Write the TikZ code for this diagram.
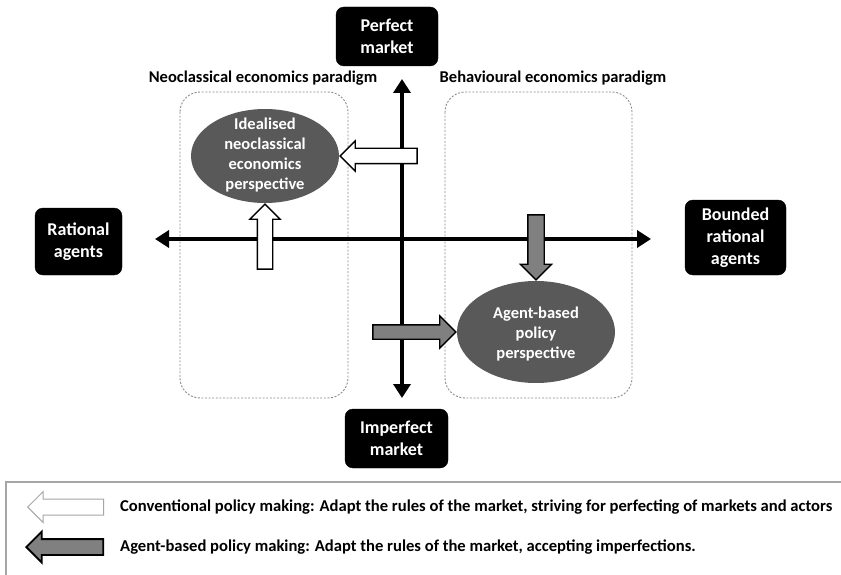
\documentclass[tikz,border=0pt]{standalone}
\usepackage{fontspec}
\setmainfont{Carlito}
\usetikzlibrary{shapes.geometric,shapes.arrows,arrows.meta}
\definecolor{ellgray}{HTML}{595959}
\definecolor{arrgray}{HTML}{808080}
\definecolor{boxline}{HTML}{8C8C8C}
\definecolor{legline}{HTML}{A6A6A6}
\tikzset{
  blackbox/.style={draw=black, fill=black, rounded corners=8pt, text=white, align=center,
    font=\bfseries\fontsize{18}{22}\selectfont, inner sep=2pt},
  paradigm/.style={dashed, dash pattern=on 2pt off 1.6pt, draw=boxline, line width=0.9pt, rounded corners=20pt},
  ellbody/.style={ellipse, fill=ellgray, draw=none, inner sep=0pt},
  elltext/.style={text=white, align=center, font=\bfseries\fontsize{16.5}{20}\selectfont, inner sep=0pt},
  heading/.style={font=\bfseries\fontsize{16.5}{20}\selectfont, inner sep=0pt},
  axis/.style={line width=4pt, -{Triangle[width=17pt,length=14pt]}},
  blockarrow/.style={single arrow, draw=black, line width=1.3pt, inner xsep=0pt, inner ysep=7pt,
    single arrow head extend=7.5pt, single arrow head indent=0pt, single arrow tip angle=90, anchor=tip},
  vblockarrow/.style={blockarrow, inner ysep=0pt, inner xsep=7pt},
  whitearrow/.style={blockarrow, fill=white},
  greyarrow/.style={blockarrow, fill=arrgray},
  legtext/.style={font=\bfseries\fontsize{16.6}{20}\selectfont, anchor=west, inner sep=0pt},
}
\begin{document}
\begin{tikzpicture}[x=1pt, y=-1pt]
\useasboundingbox (0,0) rectangle (841,575);
\clip (0,0) rectangle (841,575);
\fill[white] (0,0) rectangle (841,575);

% paradigm regions
\draw[paradigm] (180,92) rectangle (348,398);
\draw[paradigm] (445,92) rectangle (632,398);
\node[heading] (neoh) at (263,78) {Neoclassical economics paradigm};
\node[heading] (behh) at (553,78) {Behavioural economics paradigm};

% axis labels
\node[blackbox, minimum width=102pt, minimum height=59pt] (pm) at (387,36.5) {Perfect\\market};
\node[blackbox, minimum width=103pt, minimum height=59pt] (im) at (396.5,438.5) {Imperfect\\market};
\node[blackbox, minimum width=87pt, minimum height=67pt] (ra) at (78.5,241.5) {Rational\\agents};
\node[blackbox, minimum width=101pt, minimum height=75pt] (ba) at (735.5,237.5) {Bounded\\rational\\agents};

% axes
\coordinate (hmid) at (402,239);
\coordinate (hl) at (155,239);
\coordinate (hr) at (651,239);
\coordinate (vt) at (402,79);
\coordinate (vb) at (402,398);
\draw[axis] (hmid) -- (hl);
\draw[axis] (hmid) -- (hr);
\draw[axis] (hmid) -- (vt);
\draw[axis] (hmid) -- (vb);

% ellipses
\node[ellbody, minimum width=148pt, minimum height=94pt] (idl) at (265,156) {};
\node[elltext] (idlt) at (265,155) {Idealised\\neoclassical\\economics\\perspective};
\node[ellbody, minimum width=158pt, minimum height=102pt] (abp) at (536,332) {};
\node[elltext] (abpt) at (536,334) {Agent-based\\policy\\perspective};

% block arrows
\node[whitearrow, shape border rotate=180, minimum height=77pt] (wa1) at (idl.east) {};
\node[whitearrow, vblockarrow, shape border rotate=90, minimum height=65pt] (wa2) at (idl.south) {};
\node[greyarrow, vblockarrow, shape border rotate=270, minimum height=65pt, inner xsep=7.5pt] (ga1) at (abp.north) {};
\node[greyarrow, shape border rotate=0, minimum height=83pt, inner ysep=6.5pt, single arrow head extend=9pt] (ga2) at (abp.west) {};

% legend
\draw[legline, line width=1.2pt] (6,482) rectangle (860,600);
\coordinate (lw) at (27,507);
\coordinate (lg) at (25,547);
\node[blockarrow, fill=white, draw=legline, line width=1pt, shape border rotate=180, minimum height=76pt, inner ysep=7.5pt] (lwa) at (lw) {};
\node[blockarrow, fill=arrgray, line width=1.8pt, shape border rotate=180, minimum height=77pt] (lga) at (lg) {};
\node[legtext] (lwt) at (120,507) {Conventional policy making: Adapt the rules of the market, striving for perfecting of markets and actors};
\node[legtext] (lgt) at (120,547) {Agent-based policy making: Adapt the rules of the market, accepting imperfections.};
\end{tikzpicture}
\end{document}
